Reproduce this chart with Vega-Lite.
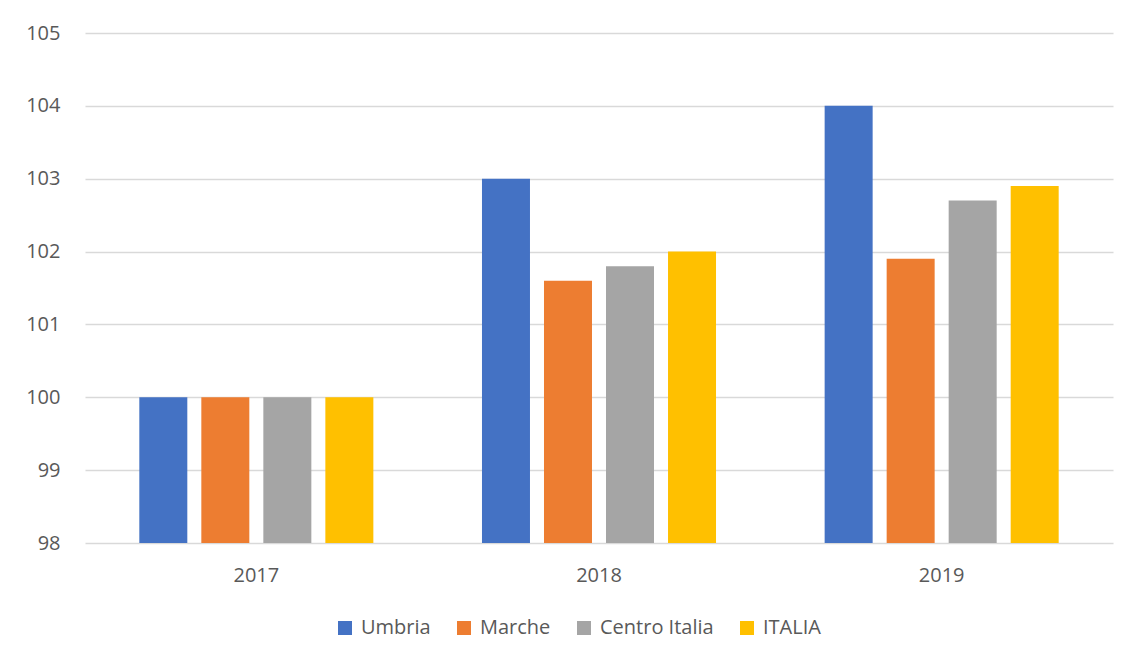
{
  "$schema": "https://vega.github.io/schema/vega-lite/v6.json",
  "width": 1028,
  "height": 510,
  "autosize": {"type": "none"},
  "padding": {"left": 85, "top": 33, "right": 21, "bottom": 117},
  "background": "white",
  "data": {
    "values": [
      {"anno": "2017", "area": "Umbria", "valore": 100},
      {"anno": "2017", "area": "Marche", "valore": 100},
      {"anno": "2017", "area": "Centro Italia", "valore": 100},
      {"anno": "2017", "area": "ITALIA", "valore": 100},
      {"anno": "2018", "area": "Umbria", "valore": 103},
      {"anno": "2018", "area": "Marche", "valore": 101.6},
      {"anno": "2018", "area": "Centro Italia", "valore": 101.8},
      {"anno": "2018", "area": "ITALIA", "valore": 102},
      {"anno": "2019", "area": "Umbria", "valore": 104},
      {"anno": "2019", "area": "Marche", "valore": 101.9},
      {"anno": "2019", "area": "Centro Italia", "valore": 102.7},
      {"anno": "2019", "area": "ITALIA", "valore": 102.9}
    ]
  },
  "mark": {"type": "bar", "clip": true},
  "encoding": {
    "x": {
      "field": "anno", "type": "nominal", "title": null,
      "scale": {"paddingInner": 0.317, "paddingOuter": 0.1585},
      "axis": {"labelAngle": 0, "ticks": false, "domain": false, "labelPadding": 22, "labelFontSize": 20, "labelColor": "#595959", "labelFont": "Open Sans"}
    },
    "xOffset": {
      "field": "area", "type": "nominal",
      "sort": ["Umbria", "Marche", "Centro Italia", "ITALIA"],
      "scale": {"paddingInner": 0.226, "paddingOuter": 0}
    },
    "y": {
      "field": "valore", "type": "quantitative", "title": null,
      "scale": {"domain": [98, 105], "zero": false, "nice": false},
      "axis": {"values": [98, 99, 100, 101, 102, 103, 104, 105], "ticks": false, "domain": false, "labelPadding": 25, "labelFontSize": 20, "labelColor": "#595959", "labelFont": "Open Sans", "gridColor": "#D9D9D9", "gridWidth": 1.5}
    },
    "color": {
      "field": "area", "type": "nominal", "title": null,
      "sort": ["Umbria", "Marche", "Centro Italia", "ITALIA"],
      "scale": {"domain": ["Umbria", "Marche", "Centro Italia", "ITALIA"], "range": ["#4472C4", "#ED7D31", "#A5A5A5", "#FFC000"]},
      "legend": {
        "orient": "none", "direction": "horizontal", "legendX": 250, "legendY": 585,
        "symbolType": "square", "symbolSize": 196, "symbolStrokeWidth": 0,
        "labelFontSize": 20, "labelColor": "#595959", "labelFont": "Open Sans",
        "labelOffset": 6, "columnPadding": 23
      }
    }
  },
  "config": {"view": {"stroke": null}}
}
